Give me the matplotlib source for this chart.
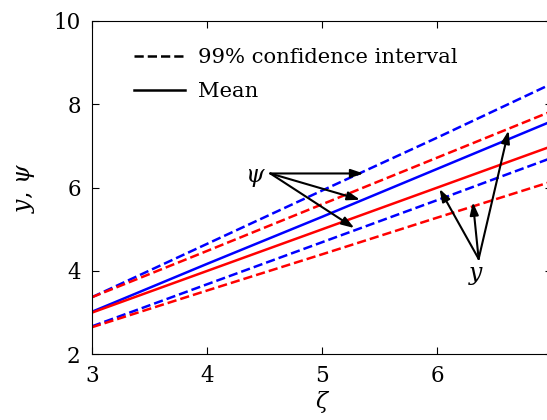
import matplotlib
matplotlib.use("Agg")
import matplotlib.pyplot as plt

plt.rcParams['font.family'] = ['DejaVu Serif']
plt.rcParams['mathtext.fontset'] = 'dejavuserif'

# data
zeta = [3, 4, 5, 6, 7]
psi_upper = [3.37, 4.65, 5.93, 7.20, 8.50]
psi_mean = [3.02, 4.17, 5.30, 6.45, 7.60]
psi_lower = [2.67, 3.68, 4.69, 5.70, 6.72]
y_upper = [3.37, 4.48, 5.60, 6.72, 7.84]
y_mean = [3.00, 4.00, 5.00, 6.00, 7.00]
y_lower = [2.65, 3.53, 4.40, 5.28, 6.15]

fig = plt.figure(figsize=(5.47, 4.2), dpi=100)
ax = fig.add_axes([0.168, 0.1564, 0.8417, 0.7937])

lw = 1.8
ax.plot(zeta, psi_upper, '--', color='blue', lw=lw)
ax.plot(zeta, psi_lower, '--', color='blue', lw=lw)
ax.plot(zeta, psi_mean, '-', color='blue', lw=lw)
ax.plot(zeta, y_upper, '--', color='red', lw=lw)
ax.plot(zeta, y_lower, '--', color='red', lw=lw)
ax.plot(zeta, y_mean, '-', color='red', lw=lw)

# legend with black proxies
ax.plot([], [], 'k--', lw=lw, label='99% confidence interval')
ax.plot([], [], 'k-', lw=lw, label='Mean')
handles, labels = ax.get_legend_handles_labels()
ax.legend(handles, labels, loc='upper left', frameon=False, fontsize=15.2,
          handlelength=2.4, handletextpad=0.65, labelspacing=0.72,
          bbox_to_anchor=(0.05, 0.975))

# annotations
arrow = dict(arrowstyle='-|>,head_length=0.5,head_width=0.17', color='k',
             lw=1.5, mutation_scale=15, shrinkA=0, shrinkB=0)
ax.text(4.42, 6.25, r'$\psi$', fontsize=17, ha='center', va='center')
for hx, hy in [(5.36, 6.34), (5.33, 5.71), (5.28, 5.03)]:
    ax.annotate('', xy=(hx, hy), xytext=(4.55, 6.34), arrowprops=arrow)

ax.text(6.34, 3.88, r'$y$', fontsize=17, ha='center', va='center')
for hx, hy in [(6.02, 5.97), (6.31, 5.65), (6.62, 7.37)]:
    ax.annotate('', xy=(hx, hy), xytext=(6.36, 4.29), arrowprops=arrow)

ax.set_xlim(3, 7)
ax.set_ylim(2, 10)
ax.set_xticks([3, 4, 5, 6, 7])
ax.set_yticks([2, 4, 6, 8, 10])
ax.tick_params(direction='in', top=True, right=True, length=5,
               labelsize=15.5, pad=8)
ax.set_xlabel(r'$\zeta$', fontsize=16, labelpad=1)
ax.set_ylabel(r'$y$, $\psi$', fontsize=17, labelpad=12)

fig.savefig('out.png', dpi=100)
